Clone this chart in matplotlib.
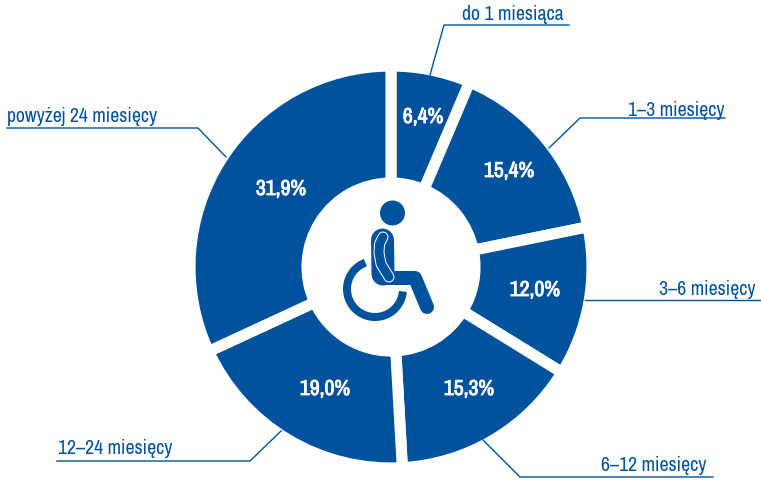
import matplotlib
matplotlib.use('Agg')
import matplotlib.pyplot as plt
import matplotlib.font_manager as fm
import matplotlib.patheffects as pe
import numpy as np

categories = ['do 1 miesiąca', '1–3 miesięcy', '3–6 miesięcy', '6–12 miesięcy', '12–24 miesięcy', 'powyżej 24 miesięcy']
values = [6.4, 15.4, 12.0, 15.3, 19.0, 31.9]
value_labels = ['6,4%', '15,4%', '12,0%', '15,3%', '19,0%', '31,9%']

blue = '#00529c'
W, H = 761, 481
cx, cy = 391, 268
px = 72 / 100

# a narrow face if there is one, size is fitted to the reference text width below
narrow = [f.name for f in fm.fontManager.ttflist if 'ondensed' in f.name or 'Narrow' in f.name]
family = narrow[0] if narrow else 'Liberation Sans'
plt.rcParams['font.family'] = [family, 'DejaVu Sans']

fig = plt.figure(figsize=(W/100, H/100), dpi=100)
ax = fig.add_axes([0, 0, 1, 1])

probe = ax.text(0, 0, categories[5], fontsize=10)
label_size = 10 * 151 / probe.get_window_extent(fig.canvas.get_renderer()).width
probe.set_fontweight('bold')
probe.set_text(value_labels[1])
value_size = 10 * 50 / probe.get_window_extent(fig.canvas.get_renderer()).width
probe.remove()

# leader lines: wedge edge to underline
leaders = [
    [(430, 76), (444, 26), (569, 26)],
    [(549, 149), (580, 119), (725, 119)],
    [(585, 301), (761, 301)],
    [(483, 441), (520, 478), (713, 478)],
    [(281, 432), (250, 462), (57, 462)],
    [(226, 158), (198, 129), (7, 129)],
]
text_pos = [(513, 15), (676, 110), (707, 290), (654, 466), (115, 449), (82.5, 116)]
for pts, (x, y), t in zip(leaders, text_pos, categories):
    ax.plot([p[0] for p in pts], [p[1] for p in pts], color=blue, lw=1, zorder=3)
    ax.text(x, y, t, color=blue, fontsize=label_size, ha='center', va='center')

# y axis is inverted, so counterclock runs clockwise on screen
ax.pie(values, center=(cx, cy), radius=201, startangle=-90, counterclock=True, colors=[blue]*6,
       wedgeprops=dict(width=117, edgecolor='white', linewidth=8, zorder=2))
ax.set_xlim(0, W)
ax.set_ylim(H, 0)
ax.set_aspect('auto')
ax.axis('off')

# value labels, the narrow face has no bold so thicken with a stroke
lab_pos = [(423, 118), (509, 172), (535, 291), (469, 390), (325, 390), (281, 190)]
for (x, y), t in zip(lab_pos, value_labels):
    ax.text(x, y, t, color='white', fontsize=value_size, fontweight='bold', ha='center', va='center', zorder=5,
            path_effects=[pe.withStroke(linewidth=0.6, foreground='white')])

# wheelchair icon
ax.add_patch(plt.Circle((392.5, 214), 12.5, color=blue, zorder=3, lw=0))
t = np.radians(np.linspace(-110, -355, 60))
ax.plot(375 + 28*np.cos(t), 290 + 28*np.sin(t), color=blue, lw=8*px, solid_capstyle='butt', zorder=3)
ax.plot([382.5, 383], [241, 275], color=blue, lw=23*px, solid_capstyle='round', zorder=3)
ax.plot([383, 415, 427], [279, 279, 308], color=blue, lw=14*px, solid_capstyle='round', solid_joinstyle='round', zorder=3)
inner_x = [383, 379.5, 379, 381, 389]
inner_y = [238, 245, 254, 265, 278]
ax.plot(inner_x, inner_y, color='white', lw=11*px, solid_capstyle='round', solid_joinstyle='round', zorder=4)
ax.plot(inner_x, inner_y, color=blue, lw=9*px, solid_capstyle='round', solid_joinstyle='round', zorder=4)

fig.savefig('out.png', dpi=100)
